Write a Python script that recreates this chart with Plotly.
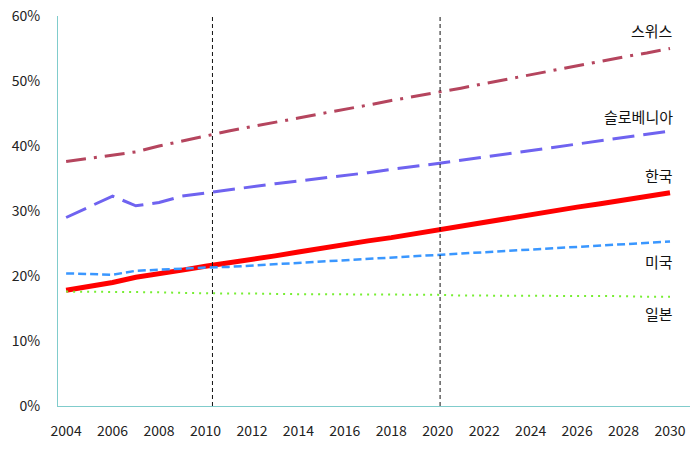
import plotly.graph_objects as go

years = list(range(2004, 2031))

swiss = [37.6, 38.1, 38.6, 39.1, 40.0, 40.8, 41.6, 42.3, 43.0, 43.6, 44.3, 45.0, 45.6, 46.3, 47.0, 47.6, 48.2,
         48.9, 49.6, 50.3, 51.0, 51.7, 52.4, 53.0, 53.7, 54.3, 55.0]
slovenia = [29.0, 30.6, 32.3, 30.8, 31.3, 32.3, 32.8, 33.2, 33.7, 34.2, 34.6, 35.0, 35.5, 35.9, 36.4, 36.8, 37.3,
            37.8, 38.3, 38.8, 39.3, 39.8, 40.3, 40.8, 41.3, 41.8, 42.3]
korea = [17.8, 18.4, 19.0, 19.8, 20.3, 20.9, 21.5, 22.0, 22.6, 23.1, 23.7, 24.3, 24.8, 25.4, 25.9, 26.5, 27.0,
         27.6, 28.2, 28.8, 29.4, 30.0, 30.6, 31.1, 31.7, 32.2, 32.8]
usa = [20.4, 20.3, 20.2, 20.8, 21.0, 21.1, 21.3, 21.4, 21.6, 21.8, 22.0, 22.2, 22.4, 22.6, 22.8, 23.0, 23.2,
       23.4, 23.6, 23.8, 24.0, 24.3, 24.5, 24.7, 24.9, 25.1, 25.3]
japan = [17.6, 17.6, 17.5, 17.5, 17.5, 17.4, 17.3, 17.3, 17.3, 17.2, 17.2, 17.2, 17.2, 17.1, 17.1, 17.1, 17.1,
         17.0, 17.0, 17.0, 17.0, 16.9, 16.9, 16.9, 16.9, 16.8, 16.8]

names = ["스위스", "슬로베니아", "한국", "미국", "일본"]
label_y = [57.8, 44.6, 35.4, 22.2, 14.2]
series = [swiss, slovenia, korea, usa, japan]
colors = ["#b5455e", "#6f63f0", "#ff0000", "#3a97ff", "#77ee33"]
widths = [3, 3, 5, 2.5, 2]
dashes = ["20px,8px,3px,8px", "22px,9px", "solid", "8px,4px", "2px,5px"]
marker_years = [2010.3, 2020.1]

y_ticks = list(range(0, 61, 10))
y_text = [f"{v}%" for v in y_ticks]
x_ticks = list(range(2004, 2031, 2))

FONT = "Noto Sans CJK KR"

fig = go.Figure()
for name, ys, c, w, d in zip(names, series, colors, widths, dashes):
    fig.add_trace(go.Scatter(x=years, y=ys, mode="lines", name=name,
                             line=dict(color=c, width=w, dash=d)))

for name, y in zip(names, label_y):
    fig.add_annotation(x=2030.2, y=y, text=name, showarrow=False, xanchor="right",
                       font=dict(family=FONT, size=15, color="#111111"))

for yr in marker_years:
    fig.add_shape(type="line", x0=yr, x1=yr, y0=0, y1=1, yref="paper",
                  line=dict(color="#111111", width=1, dash="4px,3px"))

fig.update_layout(
    width=699, height=452,
    margin=dict(l=58, r=9, t=16, b=46),
    plot_bgcolor="white", paper_bgcolor="white",
    showlegend=False,
    font=dict(family=FONT, size=14, color="#222222"),
)
fig.update_xaxes(range=[2003.65, 2030.86], tickvals=x_ticks, automargin=False,
                 showgrid=False, zeroline=False, showline=True, linecolor="#80cccc", linewidth=1,
                 ticks="", ticklabelstandoff=12)
fig.update_yaxes(range=[0, 60], tickvals=y_ticks, ticktext=y_text, automargin=False,
                 showgrid=False, zeroline=False, showline=True, linecolor="#80cccc", linewidth=1,
                 ticks="", ticklabelstandoff=14)

# drop the page's default body margin so the figure sits at the window corner
fig.write_html("out.html", config={"displayModeBar": False},
               post_script="document.body.style.margin='0';")
